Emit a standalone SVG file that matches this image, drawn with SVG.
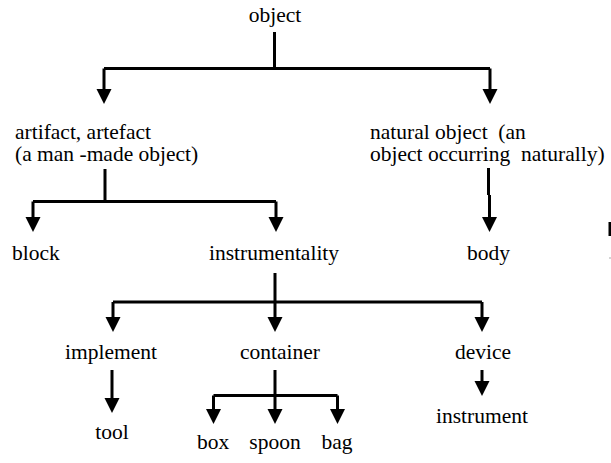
<svg xmlns="http://www.w3.org/2000/svg" width="611" height="463" viewBox="0 0 611 463">
  <style>
    text { font-family: "Liberation Serif", "Times New Roman", Times, "DejaVu Serif", serif; font-size: 21.5px; fill: #000; white-space: pre; }
    .wire { fill: none; stroke: #000; stroke-width: 3; stroke-linecap: butt; stroke-linejoin: miter; }
  </style>
  <defs>
    <!-- downward arrowhead, tip at origin -->
    <path id="head" d="M-7.5,-15 L7.5,-15 L0,0 Z" fill="#000"/>
  </defs>
  <rect width="611" height="463" fill="#fff"/>

  <g id="connectors">
    <!-- object -> artifact / natural object -->
    <path class="wire" d="M274.5,32 V68.5 M104,68.5 H490 M104,68.5 V92 M490,68.5 V92"/>
    <use href="#head" x="104" y="104"/>
    <use href="#head" x="490" y="104"/>
    <!-- artifact -> block / instrumentality -->
    <path class="wire" d="M105,169 V201.5 M33,201.5 H276 M33,201.5 V220 M276,201.5 V220"/>
    <use href="#head" x="33" y="232"/>
    <use href="#head" x="276" y="232"/>
    <!-- natural object -> body -->
    <path class="wire" d="M488.5,168 V195 M489.5,195 V220"/>
    <use href="#head" x="489.5" y="232"/>
    <!-- instrumentality -> implement / container / device -->
    <path class="wire" d="M275,273 V302 M113,302 H482 M113,302 V320 M275,302 V320 M482,302 V320"/>
    <use href="#head" x="113" y="332"/>
    <use href="#head" x="275" y="332"/>
    <use href="#head" x="482" y="332"/>
    <!-- implement -> tool -->
    <path class="wire" d="M112,370 V401"/>
    <use href="#head" x="112" y="413"/>
    <!-- container -> box / spoon / bag -->
    <path class="wire" d="M275,370 V395.5 M213.5,395.5 H337.5 M213.5,395.5 V412 M275,395.5 V412 M337.5,395.5 V412"/>
    <use href="#head" x="213.5" y="424"/>
    <use href="#head" x="275" y="424"/>
    <use href="#head" x="337.5" y="424"/>
    <!-- device -> instrument -->
    <path class="wire" d="M482,370 V383"/>
    <use href="#head" x="482" y="396"/>
  </g>

  <g id="n-object"><text x="275" y="22" text-anchor="middle">object</text></g>
  <g id="n-artifact">
    <text x="15" y="139">artifact, artefact</text>
    <text x="15" y="161">(a man -made object)</text>
  </g>
  <g id="n-natural">
    <text x="370" y="139">natural object  (an</text>
    <text x="370" y="161">object occurring  naturally)</text>
  </g>
  <g id="n-block"><text x="12" y="260">block</text></g>
  <g id="n-instrumentality"><text x="274" y="260" text-anchor="middle">instrumentality</text></g>
  <g id="n-body"><text x="488.5" y="260" text-anchor="middle">body</text></g>
  <g id="n-implement"><text x="111" y="359" text-anchor="middle">implement</text></g>
  <g id="n-container"><text x="280" y="359" text-anchor="middle">container</text></g>
  <g id="n-device"><text x="483" y="359" text-anchor="middle">device</text></g>
  <g id="n-tool"><text x="112" y="439" text-anchor="middle">tool</text></g>
  <g id="n-box"><text x="213" y="449" text-anchor="middle">box</text></g>
  <g id="n-spoon"><text x="275" y="449" text-anchor="middle">spoon</text></g>
  <g id="n-bag"><text x="337" y="449" text-anchor="middle">bag</text></g>
  <g id="n-instrument"><text x="482" y="423" text-anchor="middle">instrument</text></g>

  <!-- clipped stroke at the right edge -->
  <rect x="608.5" y="222" width="2.5" height="14" fill="#000"/>
  <rect x="609.5" y="257.5" width="1" height="1" fill="#555"/>
</svg>
